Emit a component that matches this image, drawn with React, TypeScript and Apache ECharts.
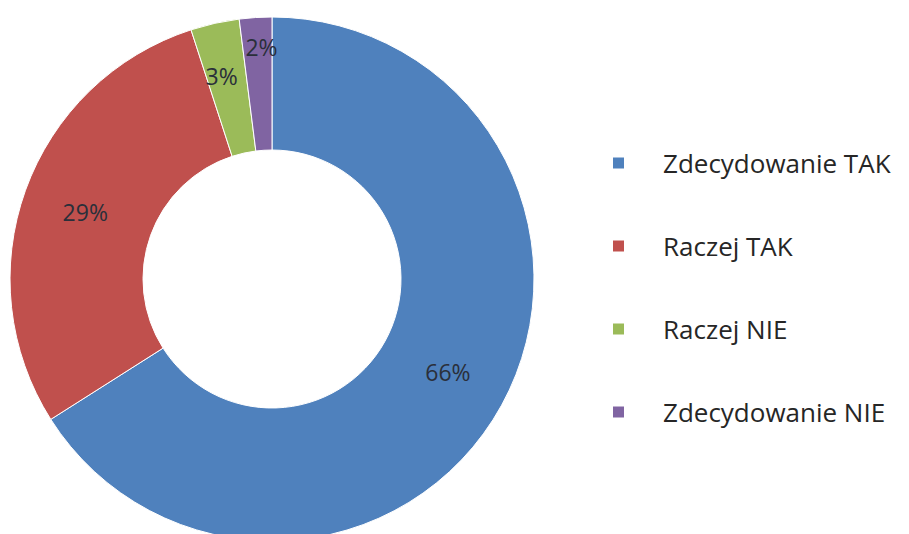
import React, { useEffect, useRef } from "react";
import * as echarts from "echarts";

const categories = ["Zdecydowanie TAK", "Raczej TAK", "Raczej NIE", "Zdecydowanie NIE"];
const values = [66, 29, 3, 2];
const colors = ["#4F81BD", "#C0504D", "#9BBB59", "#8064A2"];
const labelOffsets: number[][] = [
  [2, -3],
  [0, 0],
  [-7, -9],
  [2, -34],
];

export default function App() {
  const ref = useRef<HTMLDivElement>(null);
  useEffect(() => {
    document.body.style.margin = "0";
    const chart = echarts.init(ref.current!, null, { renderer: "svg" });
    chart.setOption({
      animation: false,
      backgroundColor: "#ffffff",
      legend: {
        orient: "vertical",
        left: 606,
        top: 143,
        itemWidth: 13,
        itemHeight: 13,
        itemGap: 53,
        icon: "rect",
        data: categories,
        textStyle: {
          fontFamily: "Open Sans",
          fontSize: 26,
          color: "#262626",
          lineHeight: 30,
          padding: [0, 0, 0, 33],
        },
      },
      series: [
        {
          type: "pie",
          center: [272, 279],
          radius: [129, 262],
          startAngle: 90,
          clockwise: true,
          avoidLabelOverlap: false,
          itemStyle: { borderColor: "#ffffff", borderWidth: 1 },
          label: {
            show: true,
            position: "inside",
            formatter: "{c}%",
            fontFamily: "Open Sans",
            fontSize: 23,
            color: "#2a2f3a",
          },
          labelLine: { show: false },
          data: categories.map((name, i) => ({
            name,
            value: values[i],
            itemStyle: { color: colors[i] },
            label: { offset: labelOffsets[i] },
          })),
        },
      ],
    });
    return () => chart.dispose();
  }, []);
  return <div ref={ref} style={{ width: 909, height: 534 }} />;
}
